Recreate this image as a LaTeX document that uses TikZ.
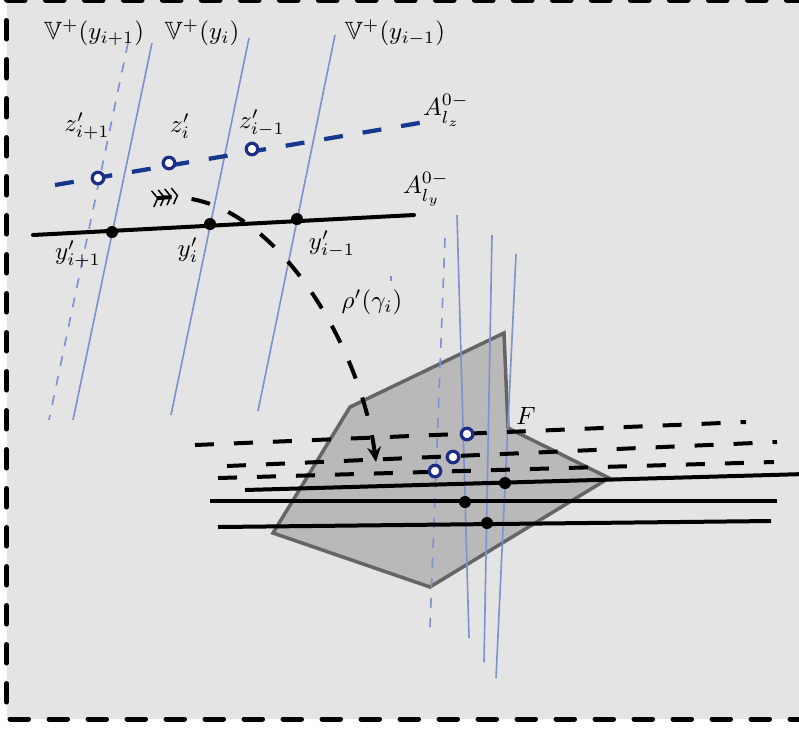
\documentclass[tikz,border=0pt]{standalone}
\usepackage{amssymb}
\usetikzlibrary{arrows.meta}
\definecolor{bgray}{HTML}{E4E4E4}
\definecolor{fgray}{HTML}{B9B9B9}
\definecolor{egray}{HTML}{656565}
\definecolor{vblue}{HTML}{8090D0}
\definecolor{lblue}{HTML}{16398F}
\definecolor{cblue}{HTML}{1E2E88}
\begin{document}
\begin{tikzpicture}[x=0.4pt,y=-0.4pt,
  frame/.style={draw=black,line width=2pt,dash pattern=on 7.4pt off 8.2pt,line cap=round},
  vline/.style={draw=vblue,line width=0.65pt},
  vdash/.style={vline,dash pattern=on 4pt off 4pt},
  bline/.style={draw=black,line width=1.6pt},
  bdash/.style={bline,dash pattern=on 7.6pt off 8pt},
  zline/.style={draw=lblue,line width=1.7pt,dash pattern=on 7.6pt off 8pt},
  ydot/.style={circle,fill=black,inner sep=0pt,minimum size=4.8pt},
  zdot/.style={circle,draw=cblue,fill=white,line width=1.3pt,inner sep=0pt,minimum size=4.6pt},
  lab/.style={inner sep=0pt},
  face/.style={fill=fgray,draw=egray,line width=1.4pt,line join=miter},
]
\useasboundingbox (0,0) rectangle (799,729);
\fill[bgray] (6.5,0) rectangle (805,719);
\draw[frame] (805,0) -- (6.5,0) -- (6.5,719) -- (805,719);

% face F
\draw[face] (350,407) -- (504,333) -- (508,428) -- (609,478) -- (430,587) -- (273,533) -- cycle;
\node[lab] (F) at (526,416) {$F$};

% top vertical lines
\coordinate (va1) at (128,43); \coordinate (vb1) at (49,420);
\coordinate (sa1) at (152,43); \coordinate (sb1) at (73,420);
\coordinate (sa2) at (249,38); \coordinate (sb2) at (171,415);
\coordinate (sa3) at (335,35); \coordinate (sb3) at (258,411);
\draw[vdash] (va1) -- (vb1);
\draw[vline] (sa1) -- (sb1);
\draw[vline] (sa2) -- (sb2);
\draw[vline] (sa3) -- (sb3);
\draw[vline] (391,276) -- (391,281);

% lower vertical lines
\coordinate (wa0) at (445,238); \coordinate (wb0) at (430,627);
\coordinate (wa1) at (457,215); \coordinate (wb1) at (469,638);
\coordinate (wa2) at (492,235); \coordinate (wb2) at (484,662);
\coordinate (wa3) at (516,254); \coordinate (wb3) at (496,678);
\draw[vdash] (wa0) -- (wb0);
\draw[vline] (wa1) -- (wb1);
\draw[vline] (wa2) -- (wb2);
\draw[vline] (wa3) -- (wb3);

% lower dashed and solid lines
\coordinate (d1a) at (195,445); \coordinate (d1b) at (746,422);
\coordinate (d2a) at (227,466); \coordinate (d2b) at (777,442);
\coordinate (d3a) at (218,478); \coordinate (d3b) at (774,462);
\draw[bdash] (d1a) -- (d1b);
\draw[bdash] (d2a) -- (d2b);
\draw[bdash] (d3a) -- (d3b);
\coordinate (s1a) at (245,490); \coordinate (s1b) at (805,474);
\coordinate (s2a) at (210,501); \coordinate (s2b) at (777,501);
\coordinate (s3a) at (218,527); \coordinate (s3b) at (771,521);
\draw[bline] (s1a) -- (s1b);
\draw[bline] (s2a) -- (s2b);
\draw[bline] (s3a) -- (s3b);
\node[ydot] (p1) at (505,483) {};
\node[ydot] (p2) at (465,502) {};
\node[ydot] (p3) at (487,523) {};
\node[zdot] (q1) at (467,434) {};
\node[zdot] (q2) at (453,457) {};
\node[zdot] (q3) at (435,471) {};

% A lines
\coordinate (lz0) at (55,185); \coordinate (lz1) at (425,122);
\draw[zline] (lz0) -- (lz1);
\coordinate (ly0) at (33,235); \coordinate (ly1) at (414,215);
\draw[bline,line cap=round] (ly0) -- (ly1);
\node[ydot] (y1) at (112,232) {};
\node[ydot] (y2) at (210,224) {};
\node[ydot] (y3) at (297,219) {};
\node[zdot] (z1) at (98,178) {};
\node[zdot] (z2) at (169,163) {};
\node[zdot] (z3) at (252,149) {};

% labels
\node[lab] at (94,33) {$\mathbb{V}^+(y_{i+1})$};
\node[lab] at (202,33) {$\mathbb{V}^+(y_i)$};
\node[lab] at (395,33) {$\mathbb{V}^+(y_{i-1})$};
\node[lab] at (87,126) {$z'_{i+1}$};
\node[lab] at (180,126) {$z'_i$};
\node[lab] at (262,123) {$z'_{i-1}$};
\node[lab] at (446,110) {$A^{0-}_{l_z}$};
\node[lab] at (426,189) {$A^{0-}_{l_y}$};
\node[lab] at (78,254) {$y'_{i+1}$};
\node[lab] at (188,250) {$y'_i$};
\node[lab] at (332,244) {$y'_{i-1}$};
\node[lab] at (372,302) {$\rho'(\gamma_i)$};

% dashed arrow
\coordinate (ra) at (152,199); \coordinate (rb) at (376,462);
\draw[bdash,dash phase=2pt,
  arrows={Straight Barb[reversed,length=2pt,width=6.5pt,line width=0.6pt,sep=0pt]Straight Barb[reversed,length=2pt,width=6.5pt,line width=0.6pt,sep=0pt]Straight Barb[reversed,length=2pt,width=6.5pt,line width=0.6pt,sep=0pt]Straight Barb[reversed,length=2pt,width=6.5pt,line width=0.6pt,sep=0pt]-Stealth[length=6pt,width=5.5pt,inset=2pt]}]
  (ra) .. controls (265,183) and (360,340) .. (rb);
\end{tikzpicture}
\end{document}
